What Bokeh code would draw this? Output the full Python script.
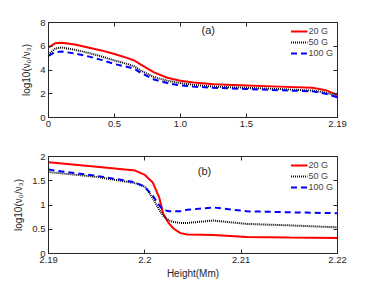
from bokeh.plotting import figure
from bokeh.layouts import column
from bokeh.models import LinearAxis, FixedTicker, Label, Legend, LegendItem, Range1d, CustomJSTickFormatter
from bokeh.embed import file_html
from bokeh.resources import INLINE

# ---- panel (a) data ----
xa = [0.0, 0.05, 0.1, 0.2, 0.3, 0.4, 0.5, 0.6, 0.65, 0.7, 0.8, 0.9, 1.0, 1.1, 1.25, 1.5, 1.75, 2.0, 2.1, 2.19]
a_20 = [5.9, 6.25, 6.3, 6.15, 5.9, 5.65, 5.35, 5.0, 4.8, 4.45, 3.8, 3.35, 3.1, 2.95, 2.8, 2.7, 2.6, 2.5, 2.3, 1.9]
a_50 = [5.3, 5.8, 5.9, 5.7, 5.45, 5.15, 4.8, 4.5, 4.3, 3.95, 3.4, 3.1, 2.9, 2.75, 2.6, 2.5, 2.4, 2.27, 2.1, 1.8]
a_100 = [5.2, 5.5, 5.55, 5.4, 5.15, 4.85, 4.5, 4.25, 4.1, 3.75, 3.2, 2.9, 2.7, 2.6, 2.5, 2.4, 2.3, 2.2, 2.0, 1.7]

# ---- panel (b) data ----
xb = [2.19, 2.195, 2.199, 2.2, 2.2008, 2.2015, 2.2019, 2.2025, 2.203, 2.2037, 2.2044, 2.2071, 2.2106, 2.215, 2.22]
b_20 = [1.88, 1.79, 1.71, 1.62, 1.47, 1.15, 0.82, 0.62, 0.51, 0.42, 0.39, 0.38, 0.34, 0.33, 0.32]
b_50 = [1.68, 1.58, 1.45, 1.38, 1.15, 0.9, 0.78, 0.68, 0.65, 0.63, 0.63, 0.68, 0.61, 0.58, 0.54]
b_100 = [1.73, 1.6, 1.47, 1.37, 1.2, 0.99, 0.9, 0.87, 0.87, 0.87, 0.9, 0.95, 0.87, 0.85, 0.83]

labels = ["20 G", "50 G", "100 G"]
colors = ["#ff0000", "#000000", "#0000ff"]
dashes = ["solid", "1 1", "6 4"]

FONT = "Liberation Sans"
YLABEL = "log10(ν₀/ν₃)"
AX = "#262626"


def tick_only_axis(ticks):
    return LinearAxis(ticker=FixedTicker(ticks=ticks),
                      formatter=CustomJSTickFormatter(code="return ''"),
                      major_tick_in=4, major_tick_out=0, minor_tick_line_color=None,
                      major_label_standoff=0,
                      axis_line_color=AX, major_tick_line_color=AX)


def style_axes(p, xticks, yticks, xfmt, yfmt):
    for ax in p.xaxis + p.yaxis:
        ax.major_tick_in = 4
        ax.major_tick_out = 0
        ax.minor_tick_line_color = None
        ax.axis_line_color = AX
        ax.major_tick_line_color = AX
        ax.major_label_text_font = FONT
        ax.major_label_text_font_size = "9.5px"
        ax.major_label_text_color = AX
        ax.axis_label_text_font = FONT
        ax.axis_label_text_font_size = "10px"
        ax.axis_label_text_font_style = "normal"
        ax.axis_label_text_color = AX
        ax.major_label_standoff = 3
    p.xaxis.ticker = FixedTicker(ticks=xticks)
    p.yaxis.ticker = FixedTicker(ticks=yticks)
    p.xaxis.major_label_overrides = xfmt
    p.yaxis.major_label_overrides = yfmt
    p.grid.visible = False
    p.outline_line_color = None
    p.add_layout(tick_only_axis(yticks), "right")
    p.add_layout(tick_only_axis(xticks), "above")


def add_lines(p, x, ys):
    items = []
    for y, c, d, lab in zip(ys, colors, dashes, labels):
        r = p.line(x, y, line_color=c, line_width=2, line_dash=d)
        items.append(LegendItem(label=lab, renderers=[r]))
    leg = Legend(items=items, location="top_right", label_text_font=FONT,
                 label_text_font_size="9px", glyph_width=17, glyph_height=8,
                 label_height=8, spacing=1, padding=2, margin=4,
                 border_line_color=None, background_fill_alpha=0.0,
                 label_standoff=1)
    p.add_layout(leg, "center")


# ---- top figure ----
p1 = figure(frame_width=289, frame_height=95, output_backend="svg", toolbar_location=None,
            x_range=Range1d(0, 2.19), y_range=Range1d(0, 8),
            min_border_left=48, min_border_right=16, min_border_top=22, min_border_bottom=19)
p1.yaxis.axis_label = YLABEL
style_axes(p1, [0, 0.5, 1.0, 1.5, 2.19], [0, 2, 4, 6, 8],
           {0: "0", 0.5: "0.5", 1.0: "1.0", 1.5: "1.5", 2.19: "2.19"},
           {0: "0", 2: "2", 4: "4", 6: "6", 8: "8"})
add_lines(p1, xa, [a_20, a_50, a_100])
p1.add_layout(Label(x=1.16, y=6.9, text="(a)",
                    text_font=FONT, text_font_size="11px", text_color=AX))

# ---- bottom figure ----
p2 = figure(frame_width=289, frame_height=97, output_backend="svg", toolbar_location=None,
            x_range=Range1d(2.19, 2.22), y_range=Range1d(0, 2),
            min_border_left=48, min_border_right=16, min_border_top=20, min_border_bottom=23)
p2.yaxis.axis_label = YLABEL
p2.xaxis.axis_label = "Height(Mm)"
p2.xaxis.axis_label_standoff = 2
style_axes(p2, [2.19, 2.2, 2.21, 2.22], [0, 0.5, 1, 1.5, 2],
           {2.19: "2.19", 2.2: "2.2", 2.21: "2.21", 2.22: "2.22"},
           {0: "0", 0.5: "0.5", 1: "1", 1.5: "1.5", 2: "2"})
add_lines(p2, xb, [b_20, b_50, b_100])
p2.add_layout(Label(x=2.2055, y=1.58, text="(b)",
                    text_font=FONT, text_font_size="11px", text_color=AX))

layout = column(p1, p2, spacing=0)
open("out.html", "w").write(file_html(layout, INLINE))
